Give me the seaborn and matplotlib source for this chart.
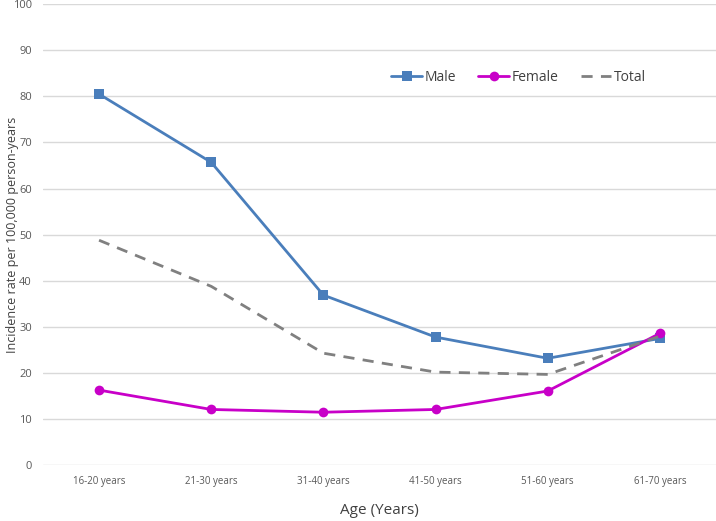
import matplotlib

matplotlib.use("Agg")

import matplotlib.pyplot as plt
import pandas as pd
import seaborn as sns

age_groups = ["16-20 years", "21-30 years", "31-40 years", "41-50 years", "51-60 years", "61-70 years"]
male = [80.5, 65.7, 36.9, 27.8, 23.2, 27.5]
female = [16.3, 12.1, 11.5, 12.1, 16.1, 28.6]
total = [48.8, 38.8, 24.3, 20.2, 19.7, 28.0]

df = pd.DataFrame({"age": age_groups, "Male": male, "Female": female, "Total": total})
df["pos"] = range(len(age_groups))

sns.set_style("white")
plt.rcParams["font.family"] = ["Open Sans", "DejaVu Sans"]

fig = plt.figure(figsize=(7.16, 5.21), dpi=100)
ax = fig.add_axes([0.06, 0.107, 0.94, 0.885])

sns.lineplot(data=df, x="pos", y="Male", ax=ax, color="#4a7ebb", linewidth=2,
             marker="s", markersize=7, markeredgewidth=0, label="Male")
sns.lineplot(data=df, x="pos", y="Female", ax=ax, color="#c800c8", linewidth=2,
             marker="o", markersize=7, markeredgewidth=0, label="Female")
sns.lineplot(data=df, x="pos", y="Total", ax=ax, color="#808080", linewidth=2,
             linestyle=(0, (4, 3)), label="Total")

ax.set_xlim(-0.5, len(age_groups) - 0.5)
ax.set_ylim(0, 100)
ax.set_yticks(range(0, 101, 10))
ax.set_xticks(df["pos"])
ax.set_xticklabels(age_groups, fontsize=7, color="#595959")
ax.tick_params(axis="y", labelsize=8, colors="#595959", length=0, pad=8)
ax.tick_params(axis="x", length=0, pad=8)
ax.grid(axis="y", color="#d9d9d9", linewidth=1)
ax.set_axisbelow(True)
sns.despine(ax=ax, left=True, bottom=True)

ax.set_xlabel("Age (Years)", fontsize=11, color="#404040", labelpad=11)
ax.set_ylabel("Incidence rate per 100,000 person-years", fontsize=9, color="#404040")
ax.yaxis.set_label_coords(-0.036, 0.5)

ax.legend(loc="center", bbox_to_anchor=(0.707, 0.842), ncol=3, frameon=False,
          fontsize=10, handlelength=2.2, columnspacing=1.6, handletextpad=0.2,
          labelcolor="#404040")

fig.savefig("out.png", dpi=100)
